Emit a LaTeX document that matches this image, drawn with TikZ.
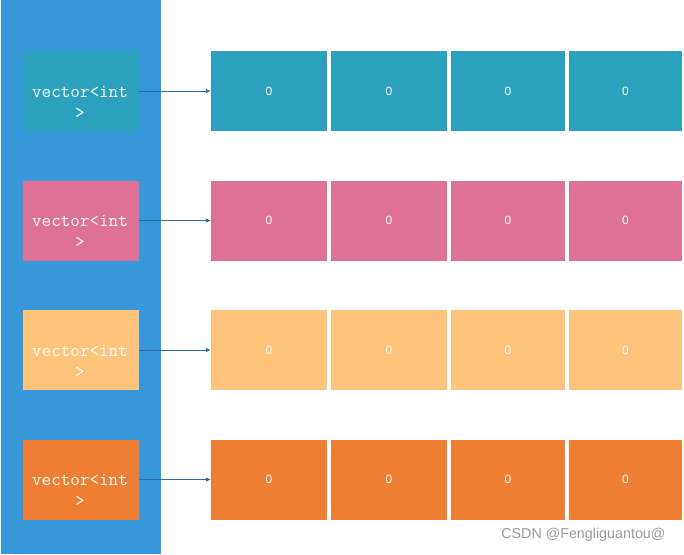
\documentclass[tikz,border=0pt]{standalone}
\usepackage{fontspec}
\setmainfont{Liberation Sans}
\setmonofont{Latin Modern Mono}
\usetikzlibrary{arrows.meta}
\definecolor{colblue}{HTML}{3897D9}
\definecolor{cteal}{HTML}{2CA1BE}
\definecolor{cpink}{HTML}{DE7196}
\definecolor{clight}{HTML}{FFC47C}
\definecolor{corange}{HTML}{EE7E33}
\definecolor{arrowc}{HTML}{2E6A9E}
\definecolor{wm}{HTML}{9A9A9A}
\tikzset{
  vecbox/.style={draw=none, minimum width=116pt, minimum height=80pt, inner sep=0pt},
  vectext/.style={text=white, align=center, inner sep=0pt, font=\ttfamily\fontsize{18.6}{21}\selectfont},
  cellbox/.style={draw=none, minimum width=116pt, minimum height=80pt, inner sep=0pt, text=white,
    font=\fontsize{12}{14}\selectfont},
  link/.style={draw=arrowc, line width=0.8pt, -{Latex[length=5pt,width=4.5pt]}}
}
\begin{document}
\begin{tikzpicture}[x=1pt,y=-1pt]
\useasboundingbox[fill=white] (0,0) rectangle (684,554);
\fill[colblue] (1,0) rectangle (161,554);
\foreach \i/\c/\y in {1/cteal/91, 2/cpink/220.5, 3/clight/350, 4/corange/479.5} {
  \node[vecbox, fill=\c] (v\i) at (81,\y) {};
  \node[vectext] (t\i) at (80,\y+11) {vector<int\\>};
  \node[cellbox, fill=\c] (c\i a) at (269,\y) {0};
  \node[cellbox, fill=\c] (c\i b) at (389,\y) {0};
  \node[cellbox, fill=\c, minimum width=114pt] (c\i c) at (508,\y) {0};
  \node[cellbox, fill=\c, minimum width=113pt] (c\i d) at (625.5,\y) {0};
  \draw[link] (v\i.east) -- (c\i a.west);
}
\node[text=wm, font=\fontsize{14.3}{16}\selectfont, anchor=east] (wmk) at (669,535) {CSDN @Fengliguantou@};
\end{tikzpicture}
\end{document}
